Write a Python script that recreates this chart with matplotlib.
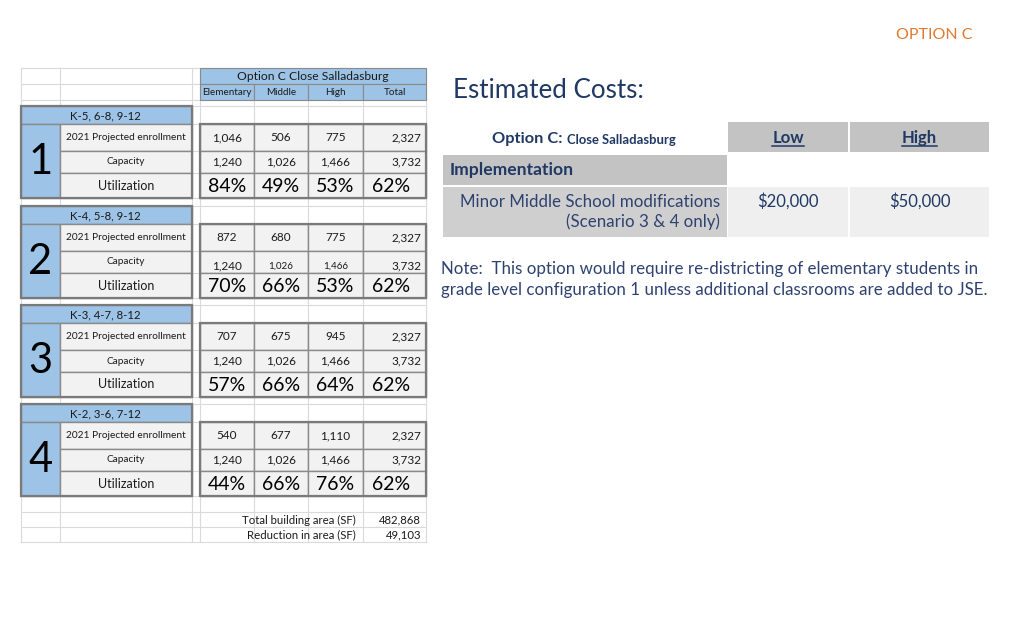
import matplotlib
matplotlib.use("Agg")
import matplotlib.pyplot as plt
from matplotlib.patches import Rectangle

plt.rcParams['font.family'] = ['Lato', 'DejaVu Sans']

# ---- data ----
sheet_title = "Option C Close Salladasburg"
levels = ["Elementary", "Middle", "High", "Total"]
configs = ["K-5, 6-8, 9-12", "K-4, 5-8, 9-12", "K-3, 4-7, 8-12", "K-2, 3-6, 7-12"]
config_ids = ["1", "2", "3", "4"]
row_labels = ["2021 Projected enrollment", "Capacity", "Utilization"]
enrollment = [[1046, 506, 775, 2327],
              [872, 680, 775, 2327],
              [707, 675, 945, 2327],
              [540, 677, 1110, 2327]]
capacity = [[1240, 1026, 1466, 3732],
            [1240, 1026, 1466, 3732],
            [1240, 1026, 1466, 3732],
            [1240, 1026, 1466, 3732]]
utilization = [[84, 49, 53, 62],
               [70, 66, 53, 62],
               [57, 66, 64, 62],
               [44, 66, 76, 62]]
area_labels = ["Total building area (SF)", "Reduction in area (SF)"]
area_values = [482868, 49103]

cost_title = "Estimated Costs:"
cost_option = "Option C:"
cost_option_sub = "Close Salladasburg"
cost_cols = ["Low", "High"]
cost_section = "Implementation"
cost_items = ["Minor Middle School modifications\n(Scenario 3 & 4 only)"]
cost_low = [20000]
cost_high = [50000]
note = ("Note:  This option would require re-districting of elementary students in\n"
        "grade level configuration 1 unless additional classrooms are added to JSE.")
slide_tag = "OPTION C"

# ---- styles / layout ----
blue = "#9dc3e6"
cell = "#f2f2f2"
edge = "#8a8a8a"
grid = "#dadada"
ink = "#1a1a1a"
navy = "#1f3864"
navy2 = "#2e4270"

col_x = [21, 60, 192, 200, 254, 308, 363, 426]
grp_top = [106, 206, 305, 404]
hdr_h = 18
row_h = [27, 22, 25]

fig = plt.figure(figsize=(10.24, 6.22), dpi=100)
ax = fig.add_axes([0, 0, 1, 1])
ax.set_xlim(0, 1024)
ax.set_ylim(622, 0)
ax.axis("off")


def box(x0, y0, w, h, fc, ec=edge, lw=1.0, z=2):
    ax.add_patch(Rectangle((x0, y0), w, h, facecolor=fc, edgecolor=ec, lw=lw, zorder=z))


# spreadsheet grid lines
ys = [68, 84, 100]
for t in grp_top:
    y = t
    ys.append(y)
    y += hdr_h
    ys.append(y)
    for h in row_h:
        y += h
        ys.append(y)
ys += [512, 527, 542]
for y in ys:
    ax.plot([col_x[0], col_x[-1]], [y, y], color=grid, lw=0.8, zorder=1)
for x in col_x:
    ax.plot([x, x], [68, 542], color=grid, lw=0.8, zorder=1)

# header
box(col_x[3], 68, col_x[-1] - col_x[3], 16, blue, lw=0.8)
ax.text((col_x[3] + col_x[-1]) / 2, 76.5, sheet_title, ha="center", va="center",
        fontsize=8.7, color=ink, zorder=5)
for j, name in enumerate(levels):
    x0, x1 = col_x[3 + j], col_x[4 + j]
    box(x0, 84, x1 - x0, 16, blue, lw=0.8)
    ax.text((x0 + x1) / 2, 92.5, name, ha="center", va="center", fontsize=7.1,
            color=ink, zorder=5)

# configuration blocks
for g, top in enumerate(grp_top):
    box(col_x[0], top, col_x[2] - col_x[0], hdr_h, blue, lw=1.0)
    ax.text(70, top + hdr_h / 2 + 0.5, configs[g], ha="left", va="center",
            fontsize=8.2, color=ink, zorder=5)
    body_top = top + hdr_h
    body_h = sum(row_h)
    box(col_x[0], body_top, col_x[1] - col_x[0], body_h, blue, lw=1.0)
    ax.text((col_x[0] + col_x[1]) / 2, body_top + body_h / 2 + 1, config_ids[g],
            ha="center", va="center", fontsize=30, color="black", zorder=5)
    y = body_top
    rows = [enrollment[g], capacity[g], utilization[g]]
    for r, h in enumerate(row_h):
        box(col_x[1], y, col_x[2] - col_x[1], h, cell, lw=1.0)
        ax.text((col_x[1] + col_x[2]) / 2, y + h / 2, row_labels[r], ha="center",
                va="center", fontsize=[7.3, 7.2, 9][r], color=ink, zorder=5)
        for j in range(4):
            x0, x1 = col_x[3 + j], col_x[4 + j]
            box(x0, y, x1 - x0, h, cell, lw=1.0)
            v = rows[r][j]
            if r == 2:
                ax.text((x0 + x1) / 2 - (3 if j == 3 else 0), y + h / 2 + 1, f"{v}%",
                        ha="center", va="center", fontsize=14, color="black", zorder=5)
            else:
                fs = 8.5
                ty = y + h / 2
                if g == 1 and r == 1:
                    ty = y + h - 7
                    if j in (1, 2):
                        fs = 7.0
                if j == 3:
                    ax.text(x1 - 5, ty, f"{v:,}", ha="right", va="center",
                            fontsize=fs, color=ink, zorder=5)
                else:
                    ax.text((x0 + x1) / 2, ty, f"{v:,}", ha="center", va="center",
                            fontsize=fs, color=ink, zorder=5)
        y += h
    # heavier outlines
    ax.add_patch(Rectangle((col_x[0], top), col_x[2] - col_x[0], hdr_h + body_h,
                           fill=False, edgecolor="#7a7a7a", lw=1.6, zorder=4))
    ax.add_patch(Rectangle((col_x[3], body_top), col_x[-1] - col_x[3], body_h,
                           fill=False, edgecolor="#7a7a7a", lw=1.6, zorder=4))

# area summary rows
for k, (lab, val) in enumerate(zip(area_labels, area_values)):
    yc = 520 + k * 15
    ax.text(col_x[6] - 7, yc, lab, ha="right", va="center", fontsize=8.2, color=ink, zorder=5)
    ax.text(col_x[7] - 5, yc, f"{val:,}", ha="right", va="center", fontsize=8.2,
            color=ink, zorder=5)

# ---- right side: estimated costs ----
ax.text(453, 90, cost_title, ha="left", va="center", fontsize=18.7, color=navy)

lab_x0, lab_x1 = 443, 727
val_x = [(728, 848), (850, 989)]
hdr_gray = "#c3c3c3"
row_gray = "#cfcfcf"
val_gray = "#efefef"

t1 = ax.text(492, 143, cost_option, ha="left", va="baseline", fontsize=11.8,
             fontweight="bold", color=navy)
ax.annotate(cost_option_sub, xy=(1, 0), xycoords=t1, xytext=(3, 0),
            textcoords="offset points", ha="left", va="bottom", fontsize=9.4,
            fontweight="bold", color=navy)

fig.canvas.draw()
renderer = fig.canvas.get_renderer()
inv = ax.transData.inverted()
for (x0, x1), name in zip(val_x, cost_cols):
    ax.add_patch(Rectangle((x0, 122), x1 - x0, 30, facecolor=hdr_gray, edgecolor="none"))
    t = ax.text((x0 + x1) / 2, 143, name, ha="center", va="baseline", fontsize=12,
                fontweight="bold", color=navy)
    bb = t.get_window_extent(renderer)
    (bx0, _), (bx1, _) = inv.transform([(bb.x0, bb.y0), (bb.x1, bb.y0)])
    ax.plot([bx0, bx1], [145.5, 145.5], color=navy, lw=1.1)

ax.add_patch(Rectangle((lab_x0, 155), lab_x1 - lab_x0, 30, facecolor=hdr_gray, edgecolor="none"))
ax.text(450, 170, cost_section, ha="left", va="center", fontsize=12.6,
        fontweight="bold", color=navy)

for i, item in enumerate(cost_items):
    top = 187 + i * 51
    ax.add_patch(Rectangle((lab_x0, top), lab_x1 - lab_x0, 50, facecolor=row_gray, edgecolor="none"))
    for (x0, x1) in val_x:
        ax.add_patch(Rectangle((x0, top), x1 - x0, 50, facecolor=val_gray, edgecolor="none"))
    ax.text(720, top + 25, item, ha="right", va="center", fontsize=12.2, color=navy2,
            linespacing=1.22)
    ax.text(sum(val_x[0]) / 2, top + 14, f"${cost_low[i]:,}", ha="center", va="center",
            fontsize=12, color=navy)
    ax.text(sum(val_x[1]) / 2, top + 14, f"${cost_high[i]:,}", ha="center", va="center",
            fontsize=12, color=navy)

ax.text(441, 279.5, note, ha="left", va="center", fontsize=12.2, color=navy2, linespacing=1.33)

ax.text(934, 35, slide_tag, ha="center", va="center", fontsize=11.5, color="#e0792f")

fig.savefig("out.png", dpi=100)
